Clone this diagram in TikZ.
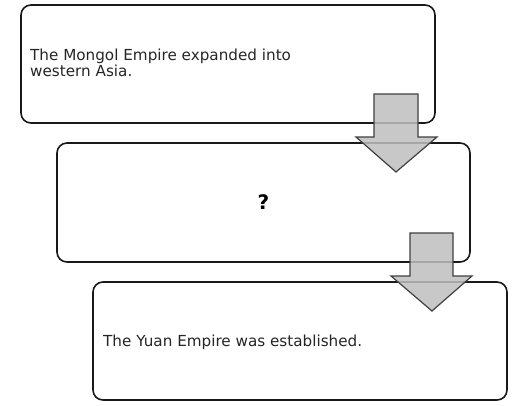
\documentclass[tikz,border=0pt]{standalone}
\usepackage{fontspec}
\setmainfont{DejaVu Sans}
\begin{document}
\begin{tikzpicture}[x=1pt,y=-1pt,
  boxstyle/.style={draw=black!90, line width=1.6pt, rounded corners=10pt, fill=white, rectangle, inner sep=0pt, minimum width=414pt, minimum height=118pt},
  arrowstyle/.style={draw=black!75, line width=1.2pt, fill=black!25, fill opacity=0.85, line join=miter},
  txt/.style={anchor=west, align=left, inner sep=0pt, font=\fontsize{15.2}{16.5}\selectfont, text=black!85}]
\useasboundingbox (0,0) rectangle (514,405);
\fill[white] (0,0) rectangle (514,405);
% boxes
\node[boxstyle] (b1) at (228,64) {};
\node[boxstyle, minimum width=413pt, minimum height=119pt] (b2) at (263.5,202.5) {};
\node[boxstyle] (b3) at (300,341) {};
% texts
\node[txt] (t1) at (30,63) {The Mongol Empire expanded into\\western Asia.};
\node[font=\fontsize{20}{22}\selectfont\bfseries, inner sep=0pt] (t2) at (b2.center) {?};
\node[txt] (t3) at (103,342) {The Yuan Empire was established.};
% block arrows
\draw[arrowstyle] (374,94) -- (418,94) -- (418,137) -- (437,137) -- (396,172) -- (356,137) -- (374,137) -- cycle;
\draw[arrowstyle] (410,233) -- (453,233) -- (453,276) -- (472,276) -- (432,311) -- (391,276) -- (410,276) -- cycle;
\end{tikzpicture}
\end{document}
